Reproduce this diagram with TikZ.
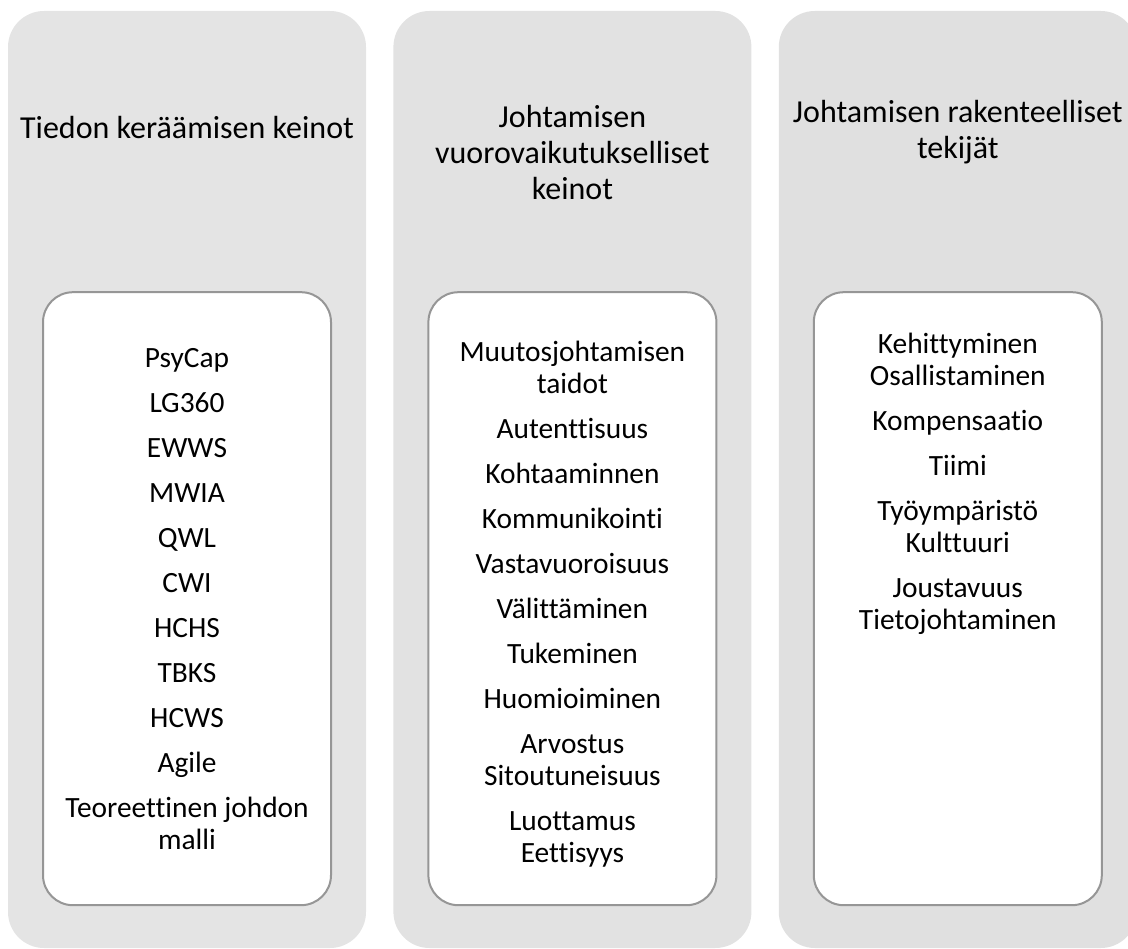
\documentclass[tikz,border=0pt]{standalone}
\usepackage{fontspec}
\setmainfont{Carlito}[Ligatures=NoCommon]
\usetikzlibrary{positioning}

\definecolor{panelA}{HTML}{E4E4E4}
\definecolor{panelB}{HTML}{E2E2E2}
\definecolor{panelC}{HTML}{E0E0E0}
\definecolor{rimgray}{HTML}{969696}

\begin{document}
\begin{tikzpicture}[x=1pt,y=-1pt,
						panel/.style={fill=#1,rounded corners=36pt,
						minimum width=358pt,minimum height=937pt,inner sep=0pt},
						listbox/.style={draw=rimgray,line width=2pt,fill=white,
						rounded corners=30pt,minimum width=288pt,
						minimum height=613pt,inner sep=0pt},
						heading/.style={align=center,inner sep=0pt,
						font=\fontsize{32}{36}\selectfont},
						itemlist/.style={align=center,inner sep=0pt,
						font=\fontsize{29.4}{32}\selectfont}]

		\useasboundingbox (0,0) rectangle (1128,949);
		\clip (0,0) rectangle (1128,949);

		% three gray panels
		\node[panel=panelA] (col1) at (187,479.5) {};
		\node[panel=panelB, right=27pt of col1] (col2) {};
		\node[panel=panelC, right=27pt of col2] (col3) {};

		% white boxes
		\node[listbox, above=42pt of col1.south] (list1) {};
		\node[listbox, above=42pt of col2.south] (list2) {};
		\node[listbox, above=42pt of col3.south] (list3) {};

		% titles
		\node[heading] (t1) at ([yshift=-117pt]col1.north) {Tiedon keräämisen keinot};
		\node[heading] (t2) at ([yshift=-142pt]col2.north)
			{Johtamisen\\vuorovaikutukselliset\\keinot};
		\node[heading] (t3) at ([yshift=-121pt]col3.north)
			{Johtamisen rakenteelliset\\tekijät};

		% contents
		\node[itemlist] (l1) at (list1.center)
			{PsyCap\\[13pt]LG360\\[13pt]EWWS\\[13pt]MWIA\\[13pt]QWL\\[13pt]CWI\\[13pt]
			HCHS\\[13pt]TBKS\\[13pt]HCWS\\[13pt]Agile\\[13pt]Teoreettinen johdon\\malli};
		\node[itemlist] (l2) at ([yshift=-5pt]list2.center)
			{Muutosjohtamisen\\taidot\\[13pt]Autenttisuus\\[13pt]Kohtaaminnen\\[13pt]
			Kommunikointi\\[13pt]Vastavuoroisuus\\[13pt]Välittäminen\\[13pt]
			Tukeminen\\[13pt]Huomioiminen\\[13pt]Arvostus\\Sitoutuneisuus\\[13pt]
			Luottamus\\Eettisyys};
		\node[itemlist, below=42pt of list3.north] (l3)
			{Kehittyminen\\Osallistaminen\\[13pt]Kompensaatio\\[13pt]Tiimi\\[13pt]
			Työympäristö\\Kulttuuri\\[13pt]Joustavuus\\Tietojohtaminen};

	\end{tikzpicture}
\end{document}
